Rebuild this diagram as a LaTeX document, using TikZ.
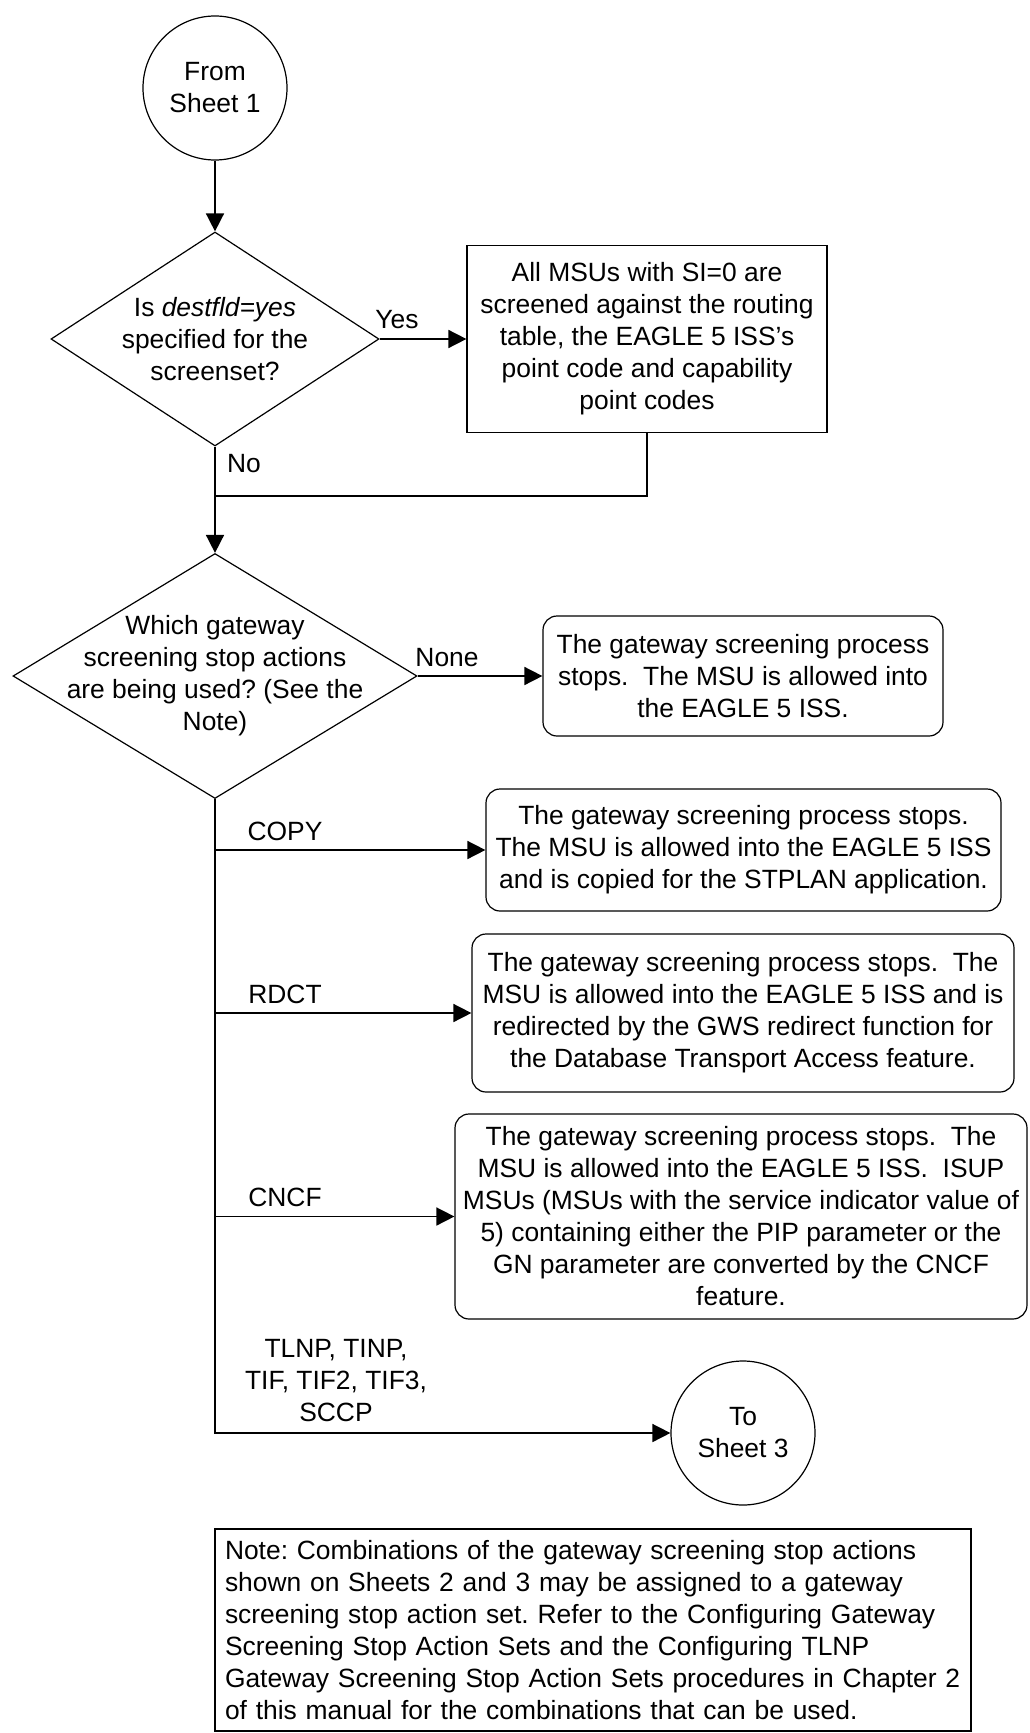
\documentclass[tikz,border=0pt]{standalone}
\usepackage{fontspec}
\setmainfont{Liberation Sans}
\usetikzlibrary{arrows.meta,shapes.geometric}
\frenchspacing

\begin{document}
\begin{tikzpicture}[
    x=0.5pt, y=-0.5pt,
    font=\fontsize{13.2}{16}\selectfont,
    every node/.style={align=center},
    sheet/.style={draw, circle, minimum size=72pt, inner sep=0pt, line width=0.6pt},
    decision/.style={draw, diamond, inner sep=0pt, line width=0.6pt},
    box/.style={draw, rectangle, inner sep=3pt, line width=0.6pt},
    stopbox/.style={draw, rounded corners=7pt, inner sep=2pt, line width=0.6pt},
    lbl/.style={inner sep=1pt},
    arr/.style={-{Triangle[length=9pt, width=9pt]}, line width=0.8pt},
    conn/.style={line width=0.8pt},
  ]
  \useasboundingbox (0,0) rectangle (1029,1733);
  % Entry from the previous sheet
  \node[sheet] (from) at (215,88) {From\\Sheet 1};
  % First decision and its yes branch
  \node[decision, minimum width=164pt, minimum height=107pt] (d1) at (215,339) {};
  \node (d1txt) at (d1) {Is \textit{destfld=yes}\\specified for the\\screenset?};
  \node[box, minimum width=180pt, minimum height=93.5pt] (scr) at (647,339)
       {All MSUs with SI=0 are\\screened against the routing\\table, the EAGLE 5 ISS's\\point code and capability\\point codes};
  \coordinate (merge) at (215,496);
  % Second decision: stop actions
  \node[decision, minimum width=202pt, minimum height=122.5pt] (d2) at (215,676) {};
  \node (d2txt) at (d2) {Which gateway\\screening stop actions\\are being used? (See the\\Note)};
  \node[stopbox, minimum width=200pt, minimum height=60pt] (none) at (743,676)
       {The gateway screening process\\stops.\ \ The MSU is allowed into\\the EAGLE 5 ISS.};
  \node[stopbox, minimum width=257.5pt, minimum height=61pt] (copy) at (743.5,850)
       {The gateway screening process stops.\\The MSU is allowed into the EAGLE 5 ISS\\and is copied for the STPLAN application.};
  \node[stopbox, minimum width=271pt, minimum height=79pt] (rdct) at (743,1013)
       {The gateway screening process stops.\ \ The\\MSU is allowed into the EAGLE 5 ISS and is\\redirected by the GWS redirect function for\\the Database Transport Access feature.};
  \node[stopbox, minimum width=286pt, minimum height=102.5pt] (cncf) at (741,1216.5)
       {The gateway screening process stops.\ \ The\\MSU is allowed into the EAGLE 5 ISS.\ \ ISUP\\MSUs (MSUs with the service indicator value of\\5) containing either the PIP parameter or the\\GN parameter are converted by the CNCF\\feature.};
  \node[sheet] (to) at (743,1433) {To\\Sheet 3};
  % Note
  \node[box, align=left, text width=368pt, inner xsep=5pt, minimum height=101pt] (note) at (593,1630)
       {Note: Combinations of the gateway screening stop actions\\shown on Sheets 2 and 3 may be assigned to a gateway\\screening stop action set. Refer to the Configuring Gateway\\Screening Stop Action Sets and the Configuring TLNP\\Gateway Screening Stop Action Sets procedures in Chapter 2\\of this manual for the combinations that can be used.};

  % Branch labels
  \node[lbl] (yes)  at (397,320) {Yes};
  \node[lbl] (no)   at (244,464) {No};
  \node[lbl] (nn)   at (447,658) {None};
  \node[lbl] (lcopy) at (285,831) {COPY};
  \node[lbl] (lrdct) at (285,994) {RDCT};
  \node[lbl] (lcncf) at (285,1197) {CNCF};
  \node[lbl] (ltl)  at (336,1381) {TLNP, TINP,\\TIF, TIF2, TIF3,\\SCCP};

  \draw[arr] (from.south) -- (d1.north);
  \draw[arr] (d1.east) -- (scr.west);
  \draw[conn] (scr.south) |- (merge);
  \draw[arr] (d1.south) -- (d2.north);
  \draw[arr] (d2.east) -- (none.west);
  \draw[arr] (d2.south) |- (to.west);
  \foreach \b in {copy,rdct,cncf}
    \draw[arr] (d2.south |- \b.west) -- (\b.west);
\end{tikzpicture}
\end{document}
